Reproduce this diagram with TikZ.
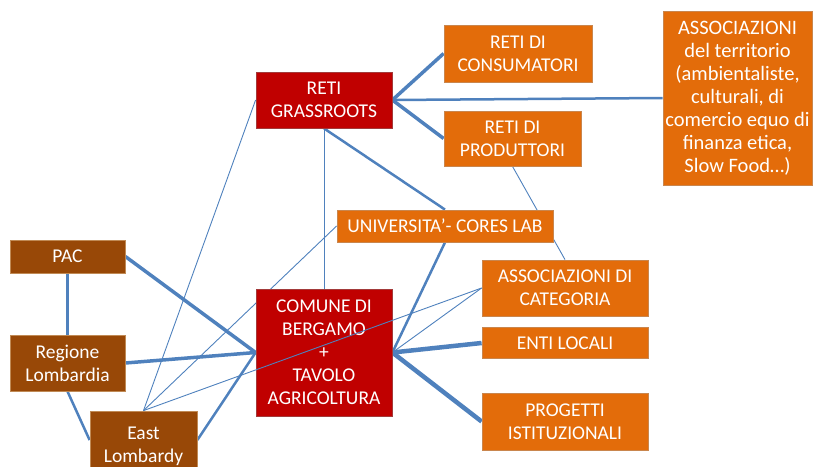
\documentclass[tikz,border=0pt]{standalone}
\usepackage{fontspec}
\setmainfont{Carlito}
\usetikzlibrary{backgrounds}
\definecolor{boxred}{HTML}{C00000}
\definecolor{boxredline}{HTML}{A33A3A}
\definecolor{boxorange}{HTML}{E36C0A}
\definecolor{boxorangeline}{HTML}{C9864E}
\definecolor{boxbrown}{HTML}{984807}
\definecolor{boxbrownline}{HTML}{C08A55}
\definecolor{linkblue}{HTML}{4F81BD}
\tikzset{
  box/.style={
    rectangle, draw, line width=0.8pt, text=white, align=center,
    inner sep=2pt, font=\fontsize{19.5}{23}\selectfont
  },
  redbox/.style   ={box, fill=boxred,    draw=boxredline},
  orangebox/.style={box, fill=boxorange, draw=boxorangeline},
  brownbox/.style ={box, fill=boxbrown,  draw=boxbrownline},
  link/.style     ={draw=linkblue, line width=0.9pt},
  midlink/.style  ={link, line width=2.5pt},
  thicklink/.style={link, line width=3.5pt},
  heavylink/.style={link, line width=4.5pt},
}

\begin{document}
\begin{tikzpicture}[x=1pt, y=-1pt]
\useasboundingbox (0,0) rectangle (814,466);

%% ---- LEFT (brown) ----
\node[brownbox, minimum width=115pt, minimum height=33pt] (pac)    at (67.5,256.5) {PAC};
\node[brownbox, minimum width=115pt, minimum height=56pt] (region) at (67.5,363)   {Regione\\Lombardia};
\node[brownbox, minimum width=107pt, minimum height=70pt] (eastlo) at (143.5,446)  {East\\Lombardy};
% box runs off the bottom edge: links meet it a bit above its middle
\coordinate (eastlo-w) at ([yshift=6pt]eastlo.west);
\coordinate (eastlo-e) at ([yshift=6pt]eastlo.east);

%% ---- CENTRE (red) ----
\node[redbox, minimum width=136pt, minimum height=56pt]  (grass)  at (324,100)   {RETI\\GRASSROOTS};
\node[redbox, minimum width=136pt, minimum height=127pt] (comune) at (324,352.5) {COMUNE DI\\BERGAMO\\+\\TAVOLO\\AGRICOLTURA};

%% ---- RIGHT (orange) ----
\node[orangebox, minimum width=216pt, minimum height=32pt]  (univ)  at (445,226)   {UNIVERSITA’- CORES LAB};
\node[orangebox, minimum width=148pt, minimum height=57pt]  (cons)  at (518,53.5)  {RETI DI\\CONSUMATORI};
\node[orangebox, minimum width=137pt, minimum height=55pt]  (prod)  at (512.5,138.5) {RETI DI\\PRODUTTORI};
\node[orangebox, minimum width=149pt, minimum height=174pt,
      font=\fontsize{20.5}{23}\selectfont] (terr) at (737.5,98)
      {ASSOCIAZIONI\\del territorio\\(ambientaliste,\\culturali, di\\comercio equo di\\finanza etica,\\Slow Food…)};
\node[orangebox, minimum width=166pt, minimum height=56pt]  (categ) at (565,288)   {ASSOCIAZIONI DI\\CATEGORIA};
\node[orangebox, minimum width=166pt, minimum height=31pt]  (enti)  at (565,343)   {ENTI LOCALI};
\node[orangebox, minimum width=166pt, minimum height=57pt]  (prog)  at (565,421.5) {PROGETTI\\ISTITUZIONALI};

%% ---- LINKS (behind the boxes) ----
\begin{scope}[on background layer]
  \draw[thicklink] (grass.east)  -- (cons.west);
  \draw[thicklink] (grass.east)  -- (prod.west);
  \draw[midlink]   (grass.east)  -- (terr.west);
  \draw[midlink]   (grass.south) -- (univ.north);
  \draw[midlink]   (univ.south)  -- (comune.east);
  \draw[heavylink] (enti.west)   -- (comune.east);
  \draw[heavylink] (prog.west)   -- (comune.east);
  \draw[thicklink] (pac.east)    -- (comune.west);
  \draw[thicklink] (region.east) -- (comune.west);
  \draw[midlink]   (eastlo-e)    -- (comune.west);
  \draw[midlink]   (pac.south)   -- (region.north);
  \draw[midlink]   (region.south) -- (eastlo-w);

  \draw[link] (grass.west)  -- (eastlo.north);
  \draw[link] (grass.south) -- (comune.north);
  \draw[link] (prod.south)  -- (categ.north);
  \draw[link] (univ.west)   -- (eastlo.north);
  \draw[link] (categ.west)  -- (comune.east);
\end{scope}

%% this one crosses over the Comune box
\draw[link] (categ.west) -- (eastlo.north);

\end{tikzpicture}
\end{document}
